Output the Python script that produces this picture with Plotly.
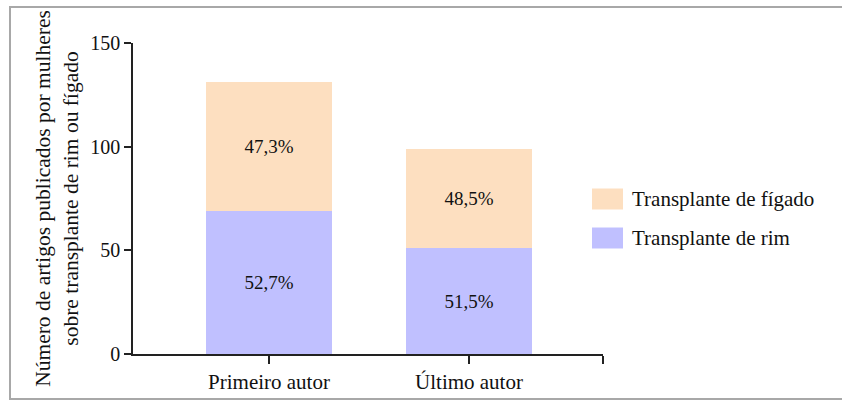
import plotly.graph_objects as go

categories = ["Primeiro autor", "Último autor"]
kidney = [69, 51]
liver = [62, 48]
kidney_pct = ["52,7%", "51,5%"]
liver_pct = ["47,3%", "48,5%"]
series_names = ["Transplante de fígado", "Transplante de rim"]
y_ticks = [0, 50, 100, 150]
y_title = "Número de artigos publicados por mulheres<br>sobre transplante de rim ou fígado"

KIDNEY_COLOR = "#C0C0FF"
LIVER_COLOR = "#FDDFC0"
FONT = "'Liberation Serif', 'DejaVu Serif', serif"
FS_PCT = 19
FS_NUM = 20
FS_TXT = 21
FS_TITLE = 21.5

xpos = list(range(len(categories)))

fig = go.Figure()
fig.add_trace(go.Bar(
    x=xpos, y=kidney, name=series_names[1], marker=dict(color=KIDNEY_COLOR, line=dict(width=0)),
    text=kidney_pct, textposition="inside", insidetextanchor="middle", textangle=0,
    textfont=dict(family=FONT, size=FS_PCT, color="#111"), width=0.63, showlegend=False,
    hoverinfo="skip",
))
fig.add_trace(go.Bar(
    x=xpos, y=liver, name=series_names[0], marker=dict(color=LIVER_COLOR, line=dict(width=0)),
    text=liver_pct, textposition="inside", insidetextanchor="middle", textangle=0,
    textfont=dict(family=FONT, size=FS_PCT, color="#111"), width=0.63, showlegend=False,
    hoverinfo="skip",
))

x_end = 1.67
fig.update_layout(
    barmode="stack",
    width=842, height=400,
    margin=dict(l=133, r=239, t=43, b=46, autoexpand=False),
    paper_bgcolor="white", plot_bgcolor="white",
    font=dict(family=FONT, size=FS_TXT, color="#111"),
    xaxis=dict(
        range=[-0.68, x_end], tickmode="array", tickvals=xpos + [x_end],
        ticktext=categories + [""], showline=True, linecolor="#222", linewidth=1.5,
        ticks="outside", ticklen=8, tickcolor="#222", tickwidth=1.5,
        showgrid=False, zeroline=False, tickfont=dict(size=FS_TXT), automargin=False,
    ),
    yaxis=dict(
        range=[0, 150], tickvals=y_ticks, showline=True, linecolor="#222", linewidth=1.5,
        ticks="outside", ticklen=7, tickcolor="#222", tickwidth=1.5,
        showgrid=False, zeroline=False, tickfont=dict(size=FS_NUM), automargin=False,
        title=dict(text=y_title, font=dict(size=FS_TITLE), standoff=6),
    ),
    showlegend=False,
)

# Outer frame
fig.add_shape(type="rect", xref="paper", yref="paper",
              x0=(10 - 133) / 470, x1=(850 - 133) / 470,
              y0=(354 - 399) / 311, y1=(354 - 7) / 311,
              line=dict(color="#A8A8A8", width=2), fillcolor="rgba(0,0,0,0)", layer="below")

# Custom legend (swatches + labels)
legend_items = [(series_names[0], LIVER_COLOR, 199), (series_names[1], KIDNEY_COLOR, 238)]
for name, color, yc in legend_items:
    fig.add_shape(type="rect", xref="paper", yref="paper",
                  x0=(592 - 133) / 470, x1=(623 - 133) / 470,
                  y0=(354 - (yc + 10.5)) / 311, y1=(354 - (yc - 10.5)) / 311,
                  line=dict(width=0), fillcolor=color)
    fig.add_annotation(xref="paper", yref="paper", x=(630 - 133) / 470, y=(354 - yc) / 311,
                       text=name, showarrow=False, xanchor="left", yanchor="middle",
                       font=dict(family=FONT, size=FS_TXT, color="#111"))

fig.write_html("out.html", config={"displayModeBar": False},
               post_script="document.body.style.margin='0';document.body.style.overflow='hidden';")
